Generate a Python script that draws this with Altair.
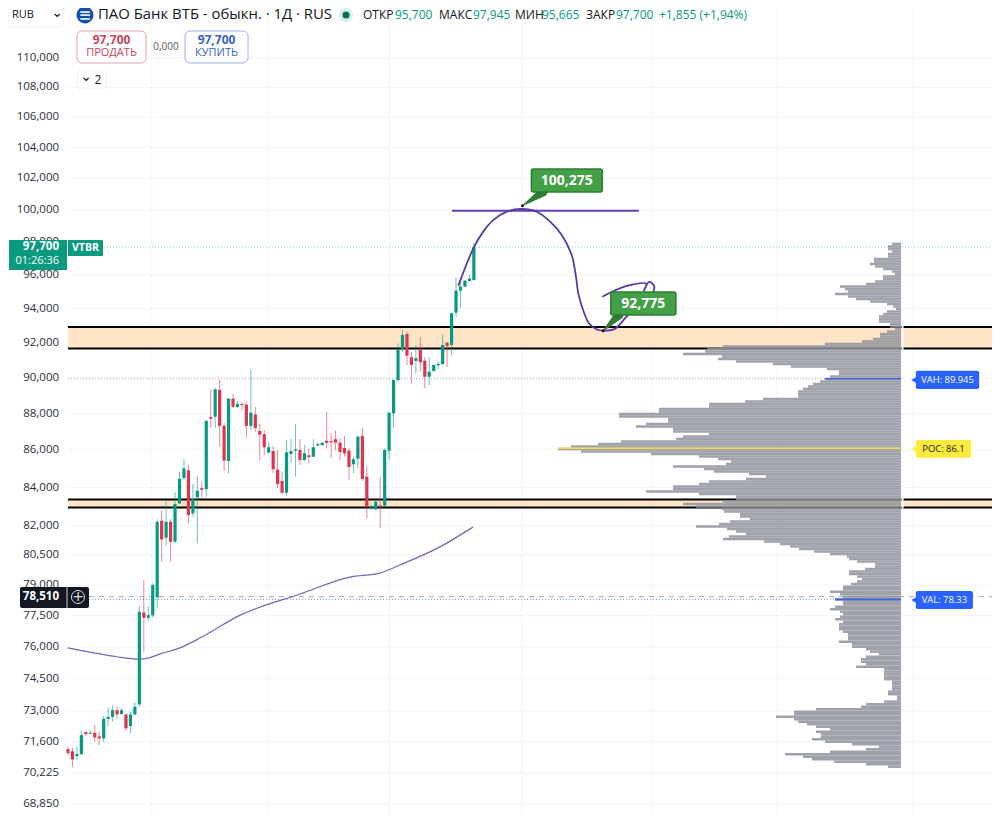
import altair as alt
import pandas as pd

# daily candles
opens = [71275, 71175, 70965, 71055, 72040, 71965, 72010, 71845, 71755, 72645,
         72735, 73040, 72865, 72845, 72315, 72845, 73305, 77665, 77405, 77520,
         78405, 82265, 81395, 82215, 81190, 83175, 84510, 84920, 82650, 83490,
         83975, 83920, 87810, 87825, 89315, 87320, 85415, 88825, 88365, 88530,
         88490, 87320, 87955, 87045, 86865, 85860, 85950, 84950, 84350, 83730,
         85790, 85970, 86005, 85470, 85720, 85645, 86255, 86275, 86505, 86495,
         86590, 86405, 86115, 85970, 85240, 85540, 86770, 84580, 82950, 82860,
         83070, 83050, 85970, 88010, 89870, 91585, 92510, 91165, 90955, 91585,
         90970, 90055, 90385, 90710, 90780, 92000, 91870, 93755, 95065, 95300,
         95640, 95700]
closes = [71100, 70815, 71055, 71905, 71950, 72010, 71800, 71755, 72645, 72735,
          73040, 72845, 73040, 72210, 72845, 73195, 77700, 77405, 77535, 79010,
          82215, 81310, 82215, 81190, 83140, 84470, 85025, 82565, 83385, 83835,
          83885, 87590, 87715, 89355, 87320, 85435, 88825, 88380, 88530, 88475,
          87320, 88045, 87210, 86840, 86155, 86155, 84975, 84185, 83730, 85880,
          85950, 86045, 85470, 85830, 85630, 86155, 86325, 86395, 86395, 86425,
          86405, 85900, 85830, 85095, 85510, 86730, 84455, 83000, 83035, 83260,
          83020, 86005, 88045, 89870, 91625, 92450, 91260, 90720, 91110, 90880,
          90055, 90345, 90725, 90780, 91870, 91810, 93720, 95065, 95300, 95660,
          95780, 97700]
highs = [71365, 71335, 71380, 72100, 72055, 72100, 72360, 72055, 72780, 73150,
         73260, 73195, 73135, 72890, 72965, 73410, 77975, 79260, 77975, 79095,
         82340, 82790, 83310, 82355, 83765, 84830, 85510, 85240, 84190, 84630,
         84310, 87645, 89355, 89410, 89910, 87480, 88865, 89090, 88700, 88605,
         88660, 90480, 88380, 87425, 87100, 86425, 86225, 86005, 84845, 86545,
         86600, 87410, 86600, 86275, 86095, 86585, 86395, 86450, 88100, 86915,
         87095, 86645, 86770, 86100, 85645, 86770, 87190, 85110, 83085, 83310,
         84580, 86100, 88100, 89925, 91965, 92745, 92645, 91485, 91870, 92315,
         91165, 91165, 90780, 90915, 92495, 92060, 93755, 95860, 95800, 95700,
         96000, 97945]
lows = [71010, 70460, 70815, 71020, 71860, 71950, 71600, 71455, 71585, 72315,
        72510, 72645, 72830, 72100, 71980, 72800, 73195, 75770, 77260, 77425,
        77865, 80175, 80970, 80175, 81105, 83140, 84400, 82130, 82475, 81105,
        83490, 83520, 87190, 87190, 86185, 84885, 84740, 88290, 88290, 88155,
        86680, 87100, 87000, 85470, 85740, 85830, 84760, 83960, 83645, 83555,
        85295, 84580, 85205, 85380, 85295, 85615, 86180, 86220, 86095, 85560,
        86005, 85470, 85645, 84395, 84760, 85025, 84350, 82390, 82825, 82825,
        81880, 83010, 85470, 87190, 89775, 91485, 90720, 89685, 90250, 90345,
        89405, 89590, 90325, 90480, 90725, 90595, 91295, 93485, 94010, 95265,
        95600, 95665]

# volume profile rows, top to bottom
profile_vol = [9, 13, 13, 9, 13, 13, 27, 27, 31, 26, 18, 9, 6, 18, 18, 26, 35, 61, 56, 53,
               66, 53, 45, 31, 14, 8, 5, 14, 18, 22, 22, 22, 11, 11, 6, 14, 21, 21, 28, 39,
               76, 178, 194, 196, 218, 179, 183, 165, 128, 110, 74, 62, 62, 71, 76, 81, 88, 93, 98, 103,
               103, 103, 138, 156, 192, 192, 242, 242, 282, 282, 233, 233, 255, 265, 228, 228, 192, 218, 225, 280,
               303, 330, 343, 320, 250, 202, 183, 170, 175, 228, 197, 187, 152, 135, 155, 192, 202, 228, 228, 255,
               202, 165, 165, 178, 218, 205, 179, 177, 161, 161, 151, 171, 182, 205, 174, 165, 155, 172, 178, 137,
               121, 111, 102, 87, 71, 54, 52, 44, 26, 26, 36, 52, 52, 44, 39, 44, 50, 58, 58, 71,
               61, 58, 66, 58, 58, 66, 71, 61, 58, 61, 66, 58, 62, 62, 62, 58, 53, 53, 53, 62,
               49, 49, 35, 31, 22, 35, 40, 40, 35, 45, 17, 17, 17, 17, 17, 9, 9, 9, 9, 13,
               13, 4, 4, 17, 35, 40, 85, 107, 107, 125, 107, 103, 94, 85, 71, 85, 80, 80, 89, 76,
               49, 22, 35, 71, 116, 98, 89, 67, 35, 13]
profile_top = 97887
profile_bottom = 70493

# moving average
ma_bar = [-0.1, 5.7, 10.9, 15.9, 18, 20.6, 25.1, 29.6, 38.6, 52.1, 63.2, 69.9, 74.4, 83.4, 90.8]
ma_price = [75957, 75721, 75532, 75423, 75470, 75659, 75957, 76424, 77534, 78570, 79410, 79610, 80015, 80930, 81940]

# hand drawn forecast curve
curve_bar = [87.5, 90.9, 93.1, 95.4, 98.4, 101.7, 105.1, 108.1, 110.7, 112.9, 113.9, 114.4, 115.5, 116.8, 118.5,
             120.0, 122.6, 125.6, 128.3, 131.2, 131.4, 130.3, 129.1, 129.7, 125.3, 119.8]
curve_price = [95343, 97628, 98651, 99380, 99893, 100063, 99893, 99270, 98445, 97240, 95900, 94910, 93912, 93135, 92785,
               92703, 92803, 93620, 94107, 94950, 95345, 95585, 95065, 95460, 95345, 94700]

tick_values = [110000, 108000, 106000, 104000, 102000, 100000, 98000, 96000, 94000, 92000, 90000, 88000,
               86000, 84000, 82000, 80500, 79000, 77500, 76000, 74500, 73000, 71600, 70225, 68850]
grid_bars = [18.8, 44.8, 72, 101.8, 131, 159, 189.5]

FONT = 'Open Sans'
INK = '#131722'
GREEN = '#089981'
RED = '#dd3550'
PURPLE = '#5a38a8'
BLUE = '#2962ff'

RIGHT = 207.175
x_scale = alt.Scale(domain=[-13.453, RIGHT], nice=False, zero=False)
y_scale = alt.Scale(type='log', domain=[68429, 113528], nice=False)
X = alt.X('i:Q', scale=x_scale, axis=None)
Y = alt.Y('p:Q', scale=y_scale, axis=None)
PROFILE_X = 186.77
BAR_PX = 4.46

one = pd.DataFrame({'k': [0]})
layers = []


def hline(price, x0, x1, color, width=1, **style):
    frame = pd.DataFrame({'i': [x0], 'i2': [x1], 'p': [price]})
    return alt.Chart(frame).mark_rule(color=color, strokeWidth=width, **style).encode(x=X, x2='i2:Q', y=Y)


def data_box(x0, x1, p0, p1, fill, stroke, radius=2, width=1.5):
    frame = pd.DataFrame({'i': [x0], 'i2': [x1], 'p': [p0], 'p2': [p1]})
    return alt.Chart(frame).mark_rect(fill=fill, stroke=stroke, strokeWidth=width, cornerRadius=radius).encode(
        x=X, x2='i2:Q', y=Y, y2='p2:Q')


def data_text(text, i, p, size, color, weight='normal'):
    frame = pd.DataFrame({'i': [i], 'p': [p]})
    return alt.Chart(frame).mark_text(text=text, font=FONT, fontSize=size, color=color, fontWeight=weight,
                                      align='center', baseline='middle').encode(x=X, y=Y)


def pointer(i0, p0, i1, p1, size, color):
    frame = pd.DataFrame({'i': [i0, i1], 'p': [p0, p1], 'w': [0.8, size], 's': [0, 1]})
    return alt.Chart(frame).mark_trail(color=color).encode(
        x=X, y=Y, size=alt.Size('w:Q', scale=None), order='s:Q')


def tip_dot(i, p):
    frame = pd.DataFrame({'i': [i], 'p': [p]})
    return alt.Chart(frame).mark_point(filled=True, color='#111111', size=9, opacity=1).encode(x=X, y=Y)


# page chrome is placed in screen pixels
def ui_text(text, x, y, size=12, color=INK, align='left', weight='normal', font=FONT):
    return alt.Chart(one).mark_text(text=text, font=font, fontSize=size, color=color, fontWeight=weight,
                                    align=align, baseline='middle').encode(x=alt.value(x - 8), y=alt.value(y - 8))


def ui_box(x0, x1, y0, y1, fill, stroke='#ffffff', radius=3, width=1):
    return alt.Chart(one).mark_rect(fill=fill, stroke=stroke, strokeWidth=width, cornerRadius=radius).encode(
        x=alt.value(x0 - 8), x2=alt.value(x1 - 8), y=alt.value(y0 - 8), y2=alt.value(y1 - 8))


def ui_dot(x, y, size, color, **style):
    return alt.Chart(one).mark_circle(color=color, size=size, opacity=1, **style).encode(
        x=alt.value(x - 8), y=alt.value(y - 8))


# grid
layers.append(alt.Chart(pd.DataFrame({'i': grid_bars})).mark_rule(color='#f2f4f8', strokeWidth=1).encode(x=X))
for tick in tick_values:
    layers.append(hline(tick, 0, RIGHT, '#f2f4f8'))

# levels
layers.append(data_box(0, RIGHT, 92918, 91669, '#fde5c6', '#fde5c6', 0, 0))
layers.append(data_box(0, RIGHT, 83374, 82957, '#fde5c6', '#fde5c6', 0, 0))
layers.append(hline(97700, 0, RIGHT, '#8fcfc0', 1, strokeDash=[1, 2]))
layers.append(hline(89945, 0, 169.7, '#a8adb8', 1, strokeDash=[1, 2]))
layers.append(hline(86100, 0, 110, '#fbf0bd', 1, strokeDash=[1, 2]))
layers.append(hline(78300, 4.7, 172, '#7f9bd8', 1, strokeDash=[1, 2]))
layers.append(hline(78440, 4.7, RIGHT, '#a6abb3', 1, strokeDash=[5, 5]))
for level in [92918, 91669, 83374, 82957]:
    layers.append(hline(level, 0, RIGHT, '#000000', 2))

# moving average
ma = pd.DataFrame({'i': ma_bar, 'p': ma_price})
layers.append(alt.Chart(ma).mark_line(color='#6f68b8', strokeWidth=1.2, interpolate='monotone').encode(x=X, y=Y))

# candles
candles = pd.DataFrame({'i': list(range(len(closes))), 'open': opens, 'close': closes, 'high': highs, 'low': lows})
candle_color = alt.condition('datum.close >= datum.open', alt.value(GREEN), alt.value(RED))
wicks = alt.Chart(candles).mark_rule(strokeWidth=1, opacity=0.6).encode(
    x=X, y=alt.Y('low:Q', scale=y_scale, axis=None), y2='high:Q', color=candle_color)
bodies = alt.Chart(candles).mark_rule(strokeWidth=3.2).encode(
    x=X, y=alt.Y('open:Q', scale=y_scale, axis=None), y2='close:Q', color=candle_color)
layers += [wicks, bodies]

# volume profile
rows = len(profile_vol)
ratio = profile_bottom / profile_top
profile = pd.DataFrame({
    'i': [PROFILE_X - v / BAR_PX for v in profile_vol],
    'i2': [PROFILE_X] * rows,
    'p': [profile_top * ratio ** (n / (rows - 1)) for n in range(rows)],
})
layers.append(alt.Chart(profile).mark_rule(color='#92949e', strokeWidth=2.5, opacity=0.87).encode(
    x=X, x2='i2:Q', y=Y))
layers.append(hline(86100, 109.9, PROFILE_X, '#f5dc4e', 1.6))
layers.append(hline(89945, 169.7, PROFILE_X, '#3f66d8', 1.6))
layers.append(hline(78300, 172, PROFILE_X, '#3f66d8', 2))

# white gap right of the profile, across the levels
gap = pd.DataFrame({'i': [PROFILE_X + 0.35] * 2, 'p': [93000, 83450], 'p2': [91600, 82900]})
layers.append(alt.Chart(gap).mark_rule(color='#ffffff', strokeWidth=2).encode(x=X, y=Y, y2='p2:Q'))

# hand drawing
layers.append(hline(99950, 86.1, 128, '#6a3fb5', 2))
curve = pd.DataFrame({'i': curve_bar, 'p': curve_price, 's': list(range(len(curve_bar)))})
layers.append(alt.Chart(curve).mark_line(color=PURPLE, strokeWidth=1.8, interpolate='catmull-rom').encode(
    x=X, y=Y, order='s:Q'))

# callouts
layers.append(pointer(101.9, 100270, 106.5, 101140, 9, '#2f7d33'))
layers.append(data_box(103.9, 119.8, 102609, 101137, '#43a047', '#2e7d32'))
layers.append(data_text('100,275', 111.85, 101870, 14, '#ffffff', 'bold'))
layers.append(tip_dot(101.9, 100270))
layers.append(pointer(120.0, 92700, 123.5, 93620, 9, '#2f7d33'))
layers.append(data_box(121.7, 136.3, 94980, 93620, '#43a047', '#2e7d32'))
layers.append(data_text('92,775', 129, 94295, 14, '#ffffff', 'bold'))
layers.append(tip_dot(120.0, 92700))

# value area tags
for label, price, top, bottom, right, fill, ink in [
    ('VAH: 89.945', 89945, 90390, 89360, 204.3, BLUE, '#ffffff'),
    ('POC: 86.1', 86100, 86550, 85590, 202.5, '#ffeb3b', INK),
    ('VAL: 78.33', 78330, 78720, 77830, 202.9, BLUE, '#ffffff'),
]:
    layers.append(data_box(190.1, right, top, bottom, fill, fill, 2, 0))
    frame = pd.DataFrame({'i': [189.9], 'p': [(top + bottom) / 2]})
    layers.append(alt.Chart(frame).mark_point(shape='triangle-left', filled=True, color=fill, size=70,
                                              opacity=1).encode(x=X, y=Y))
    layers.append(data_text(label, (190.1 + right) / 2, (top + bottom) / 2, 9.4, ink))

# price scale labels
ticks = pd.DataFrame({'i': [-2.0] * len(tick_values), 'p': tick_values})
layers.append(alt.Chart(ticks).mark_text(font=FONT, fontSize=11.5, color='#2a2e39', align='right',
                                         baseline='middle').encode(
    x=X, y=Y, text=alt.Text('p:Q', format=',d')))

# last price and crosshair labels
layers.append(ui_box(9, 67, 240, 270, '#0a9a80', '#0a9a80', 1, 0))
layers.append(ui_box(68, 103, 240, 256, '#0a9a80', '#0a9a80', 1, 0))
layers.append(ui_text('97,700', 59, 247, 11.5, '#ffffff', 'right', 'bold'))
layers.append(ui_text('01:26:36', 59, 261, 11, '#ffffff', 'right'))
layers.append(ui_text('VTBR', 85.5, 248, 10.5, '#ffffff', 'center', 'bold'))
layers.append(ui_box(20, 89, 587, 608, '#131722', '#131722', 2, 0))
layers.append(alt.Chart(one).mark_rule(color='#ffffff', strokeWidth=0.8).encode(
    x=alt.value(59), y=alt.value(579), y2=alt.value(600)))
layers.append(ui_text('78,510', 59, 597, 11.5, '#ffffff', 'right', 'bold'))
layers.append(alt.Chart(one).mark_point(shape='circle', filled=False, color='#d8dbe2', size=170, strokeWidth=1,
                                        opacity=1).encode(x=alt.value(70), y=alt.value(589)))
layers.append(ui_text('+', 78, 596.5, 14, '#d8dbe2', 'center', font='DejaVu Sans'))

# header
layers.append(ui_box(8, 63, 4, 27, '#ffffff', '#eef0f4'))
layers.append(ui_text('RUB', 12, 15, 11, INK))
layers.append(ui_text('⌄', 57, 13, 14, INK, 'center', font='DejaVu Sans'))
layers.append(ui_dot(85, 15, 290, '#1450a3'))
layers.append(ui_text('≡', 85, 15, 15, '#dfe9f7', 'center', 'bold', font='DejaVu Sans'))
layers.append(ui_text('ПАО Банк ВТБ - обыкн. · 1Д · RUS', 98, 15, 14.9, INK))
layers.append(ui_dot(346, 15, 200, '#d5eee9'))
layers.append(ui_dot(346, 15, 50, '#0b6b57'))
for text, x, color in [
    ('ОТКР', 363, INK), ('95,700', 395, GREEN), ('МАКС', 439, INK), ('97,945', 473, GREEN),
    ('МИН', 515, INK), ('95,665', 542, GREEN), ('ЗАКР', 586, INK), ('97,700', 616, GREEN),
    ('+1,855 (+1,94%)', 659, GREEN),
]:
    layers.append(ui_text(text, x, 15, 12, color))

# trade buttons
layers.append(ui_box(77, 146, 31, 63, '#ffffff', '#e0a3ad', 5))
layers.append(ui_text('97,700', 111.5, 40, 12, '#c9465c', 'center', 'bold'))
layers.append(ui_text('ПРОДАТЬ', 111.5, 53, 11, '#c9465c', 'center'))
layers.append(ui_text('0,000', 166, 47, 10, '#555a66', 'center'))
layers.append(ui_box(185, 248, 31, 63, '#ffffff', '#9db0e0', 5))
layers.append(ui_text('97,700', 216.5, 40, 12, '#3d5fc4', 'center', 'bold'))
layers.append(ui_text('КУПИТЬ', 216.5, 53, 11, '#3d5fc4', 'center'))
layers.append(ui_box(77, 106, 71, 89, '#ffffff', '#eef0f4'))
layers.append(ui_text('⌄', 86, 77, 14, INK, 'center', font='DejaVu Sans'))
layers.append(ui_text('2', 98, 80, 12, INK, 'center'))

chart = alt.layer(*layers).properties(
    width=984, height=806, padding=0, autosize=alt.AutoSizeParams(type='none'), background='#ffffff'
).configure_view(strokeWidth=0)

chart.save("out.html", embed_options={"renderer": "svg", "actions": False})
